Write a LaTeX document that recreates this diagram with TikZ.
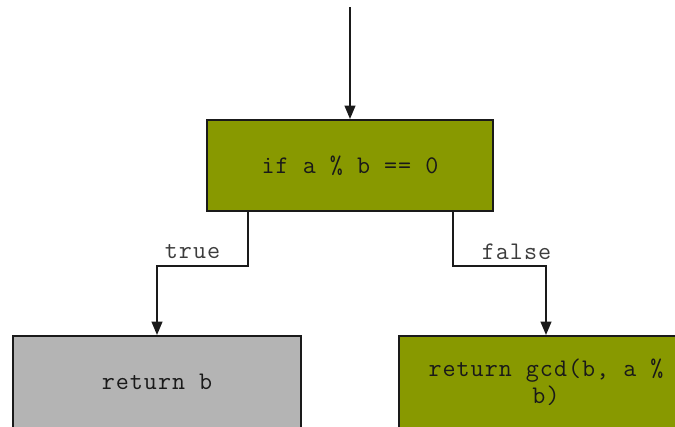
\documentclass[tikz,border=0pt]{standalone}
\usepackage{fontspec}
\setmonofont{Latin Modern Mono}[LetterSpace=4]
\usetikzlibrary{arrows.meta}
\definecolor{condgreen}{RGB}{136,153,0}
\definecolor{retgray}{RGB}{180,180,180}
\definecolor{inkline}{RGB}{26,26,26}
\definecolor{labelink}{RGB}{60,60,60}
\tikzset{
  block/.style={draw=inkline, line width=1.5pt, rectangle, inner sep=0pt,
    font=\ttfamily\fontsize{19}{20}\selectfont, text=black!90,
    align=center, minimum height=69pt},
  conn/.style={draw=inkline, line width=1.5pt,
    -{Triangle[length=10pt,width=8pt]}},
  edgelabel/.style={font=\ttfamily\fontsize{19}{20}\selectfont, text=labelink, inner sep=0pt}
}
\begin{document}
\begin{tikzpicture}[x=0.75pt,y=-0.75pt]
\useasboundingbox (0,0) rectangle (675,426);
\clip (0,0) rectangle (675,426);

% decision and its two outcomes
\node[block, fill=condgreen, minimum width=214.5pt, minimum height=68.25pt] (cond) at (350,165.5) {if a \% b == 0};
\node[block, fill=retgray, minimum width=216pt] (retb) at (157,382) {return b};
\node[block, fill=condgreen, minimum width=221.25pt] (recur) at (546,382) {return gcd(b, a \%\\b)};

% entry into the decision
\coordinate (entry) at (350,7);
\draw[conn] (entry) -- (cond.north);

% branches
\draw[conn] ([xshift=-76.5pt]cond.south) -- ++(0,53.5) -| (retb.north);
\draw[conn] ([xshift=77pt]cond.south) -- ++(0,53.5) -| (recur.north);

\node[edgelabel] (tlabel) at (192.5,252) {true};
\node[edgelabel] (flabel) at (516.5,252) {false};
\end{tikzpicture}
\end{document}
